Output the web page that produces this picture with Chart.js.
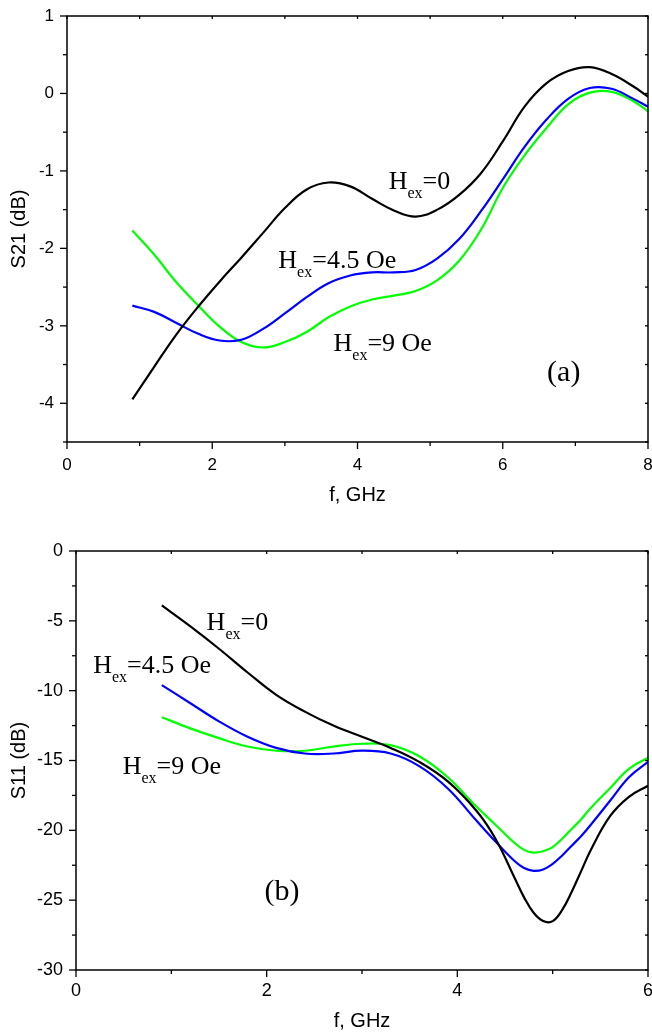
<!DOCTYPE html>
<html>
<head>
<meta charset="utf-8">
<script src="https://cdn.jsdelivr.net/npm/chart.js@4.4.1/dist/chart.umd.min.js"></script>
<style>
  body { margin: 0; background: #fff; }
  .panel { position: absolute; left: 0; width: 652px; }
  #wrapA { top: 0; height: 520px; }
  #wrapB { top: 520px; height: 513px; }
</style>
</head>
<body>
<div class="panel" id="wrapA"><canvas id="chartA" width="652" height="520"></canvas></div>
<div class="panel" id="wrapB"><canvas id="chartB" width="652" height="513"></canvas></div>
<script>
// (a) S21 vs frequency
const freqA = [0.9, 1.2, 1.5, 1.8, 2.1, 2.4, 2.7, 3.0, 3.3, 3.6, 3.9, 4.2, 4.5, 4.8, 5.1, 5.4, 5.7, 6.0, 6.3, 6.6, 6.9, 7.2, 7.5, 7.8, 8.0];
const s21_h0  = [-3.95, -3.53, -3.12, -2.76, -2.43, -2.12, -1.80, -1.48, -1.24, -1.15, -1.20, -1.36, -1.51, -1.59, -1.50, -1.31, -1.03, -0.62, -0.17, 0.13, 0.29, 0.34, 0.25, 0.09, -0.04];
const s21_h45 = [-2.74, -2.82, -2.96, -3.10, -3.19, -3.18, -3.04, -2.84, -2.63, -2.45, -2.35, -2.31, -2.31, -2.28, -2.13, -1.88, -1.52, -1.11, -0.69, -0.34, -0.07, 0.07, 0.06, -0.07, -0.17];
const s21_h9  = [-1.77, -2.08, -2.43, -2.73, -3.01, -3.21, -3.28, -3.21, -3.08, -2.89, -2.75, -2.66, -2.61, -2.55, -2.41, -2.16, -1.76, -1.22, -0.80, -0.45, -0.14, 0.01, 0.02, -0.10, -0.23];
const xTicksA = [0, 2, 4, 6, 8];
const yTicksA = [-4, -3, -2, -1, 0, 1];

// (b) S11 vs frequency
const freqB = [0.9, 1.2, 1.5, 1.8, 2.1, 2.4, 2.7, 3.0, 3.3, 3.6, 3.9, 4.2, 4.4, 4.6, 4.7, 4.8, 4.9, 5.0, 5.1, 5.2, 5.3, 5.4, 5.6, 5.8, 6.0];
const s11_h0  = [-3.9, -5.4, -7.0, -8.7, -10.3, -11.5, -12.5, -13.3, -14.1, -15.1, -16.5, -18.6, -20.6, -23.4, -24.8, -25.9, -26.5, -26.5, -25.7, -24.4, -22.9, -21.4, -19.0, -17.6, -16.8];
const s11_h45 = [-9.6, -10.9, -12.2, -13.3, -14.1, -14.5, -14.5, -14.3, -14.5, -15.4, -17.0, -19.3, -20.8, -22.2, -22.7, -22.9, -22.8, -22.4, -21.8, -21.1, -20.4, -19.6, -17.9, -16.2, -15.1];
const s11_h9  = [-11.9, -12.7, -13.4, -14.0, -14.3, -14.3, -14.0, -13.8, -13.9, -14.7, -16.2, -18.3, -19.6, -20.9, -21.4, -21.6, -21.5, -21.2, -20.6, -19.9, -19.2, -18.4, -17.0, -15.6, -14.8];
const xTicksB = [0, 2, 4, 6];
const yTicksB = [-30, -25, -20, -15, -10, -5, 0];

const seriesColors = ['#000000', '#0000ff', '#00ff00'];

// curve labels, placed in data coordinates
const labelsA = [
    { sub: 'ex', rest: '=0', x: 4.43, y: -1.24 },
    { sub: 'ex', rest: '=4.5 Oe', x: 2.91, y: -2.25 },
    { sub: 'ex', rest: '=9 Oe', x: 3.67, y: -3.33 }
];
const labelsB = [
    { sub: 'ex', rest: '=0', x: 1.37, y: -5.64 },
    { sub: 'ex', rest: '=4.5 Oe', x: 0.18, y: -8.71 },
    { sub: 'ex', rest: '=9 Oe', x: 0.49, y: -16.0 }
];

// Frame with ticks on all four sides
const frameTicks = {
    id: 'frameTicks',
    afterDraw(chart, args, opts) {
        const { ctx, chartArea: a } = chart;
        const sx = chart.scales.x, sy = chart.scales.y;
        ctx.save();
        ctx.strokeStyle = '#000';
        ctx.lineWidth = 1.5;
        ctx.strokeRect(a.left, a.top, a.right - a.left, a.bottom - a.top);
        ctx.lineWidth = 1.3;
        const line = (x1, y1, x2, y2) => {
            ctx.beginPath();
            ctx.moveTo(x1, y1);
            ctx.lineTo(x2, y2);
            ctx.stroke();
        };
        const isMajor = (v, step) => Math.abs(v / step - Math.round(v / step)) < 1e-6;
        for (let v = sx.min; v <= sx.max + 1e-9; v += opts.xMajor / 2) {
            const px = sx.getPixelForValue(v);
            line(px, a.bottom, px, a.bottom + (isMajor(v, opts.xMajor) ? 7 : 4));
            line(px, a.top, px, a.top + 3);
        }
        for (let v = sy.min; v <= sy.max + 1e-9; v += opts.yMajor / 2) {
            const py = sy.getPixelForValue(v);
            line(a.left, py, a.left - (isMajor(v, opts.yMajor) ? 7 : 4), py);
            line(a.right, py, a.right - 3, py);
        }
        ctx.restore();
    }
};

// H_ex labels and panel letter
const curveText = {
    id: 'curveText',
    afterDraw(chart, args, opts) {
        const { ctx } = chart;
        const sx = chart.scales.x, sy = chart.scales.y;
        ctx.save();
        ctx.fillStyle = '#000';
        ctx.textAlign = 'left';
        ctx.textBaseline = 'alphabetic';
        opts.labels.forEach(l => {
            const px = sx.getPixelForValue(l.x);
            const py = sy.getPixelForValue(l.y);
            ctx.font = '26px "Liberation Serif"';
            ctx.fillText('H', px, py);
            let w = ctx.measureText('H').width;
            ctx.font = '16px "Liberation Serif"';
            ctx.fillText(l.sub, px + w, py + 9);
            w += ctx.measureText(l.sub).width;
            ctx.font = '26px "Liberation Serif"';
            ctx.fillText(l.rest, px + w, py);
        });
        ctx.font = '30px "Liberation Serif"';
        ctx.textAlign = 'center';
        ctx.textBaseline = 'middle';
        ctx.fillText(opts.panel.text, sx.getPixelForValue(opts.panel.x), sy.getPixelForValue(opts.panel.y));
        ctx.restore();
    }
};

function makeDatasets(freq, series) {
    return series.map((vals, i) => ({
        data: freq.map((f, k) => ({ x: f, y: vals[k] })),
        borderColor: seriesColors[i],
        borderWidth: 2.2,
        pointRadius: 0,
        fill: false,
        tension: 0.4
    }));
}

function makeOptions(cfg) {
    return {
        responsive: false,
        animation: false,
        layout: { padding: { top: cfg.padTop, right: 4, left: 0, bottom: 0 } },
        plugins: {
            legend: { display: false },
            tooltip: { enabled: false },
            frameTicks: { xMajor: cfg.xMajor, yMajor: cfg.yMajor },
            curveText: { labels: cfg.labels, panel: cfg.panel }
        },
        scales: {
            x: {
                type: 'linear',
                min: cfg.xMin,
                max: cfg.xMax,
                grid: { display: false, drawTicks: false },
                border: { display: false },
                afterBuildTicks: s => { s.ticks = cfg.xTicks.map(v => ({ value: v })); },
                afterFit: s => { s.height = cfg.xAxisHeight; s.paddingLeft = 0; s.paddingRight = 0; },
                ticks: {
                    padding: cfg.xTickPad,
                    color: '#000',
                    maxRotation: 0,
                    autoSkip: false,
                    font: { family: 'Liberation Sans', size: cfg.tickSize }
                },
                title: {
                    display: true,
                    text: 'f, GHz',
                    color: '#000',
                    font: { family: 'Liberation Sans', size: 20 },
                    padding: { top: 0, bottom: cfg.xTitlePad }
                }
            },
            y: {
                type: 'linear',
                min: cfg.yMin,
                max: cfg.yMax,
                grid: { display: false, drawTicks: false },
                border: { display: false },
                afterBuildTicks: s => { s.ticks = cfg.yTicks.map(v => ({ value: v })); },
                afterFit: s => { s.width = cfg.yAxisWidth; s.paddingTop = 0; s.paddingBottom = 0; },
                ticks: {
                    padding: 13,
                    color: '#000',
                    autoSkip: false,
                    font: { family: 'Liberation Sans', size: cfg.tickSize }
                },
                title: {
                    display: true,
                    text: cfg.yTitle,
                    color: '#000',
                    font: { family: 'Liberation Sans', size: 20 },
                    padding: { top: 7, bottom: 0 }
                }
            }
        }
    };
}

new Chart(document.getElementById('chartA'), {
    type: 'line',
    data: { datasets: makeDatasets(freqA, [s21_h0, s21_h45, s21_h9]) },
    options: makeOptions({
        padTop: 16, xMin: 0, xMax: 8, yMin: -4.5, yMax: 1,
        xTicks: xTicksA, yTicks: yTicksA, xMajor: 2, yMajor: 1,
        xAxisHeight: 78, yAxisWidth: 67, xTickPad: 13, xTitlePad: 13, tickSize: 17,
        yTitle: 'S21 (dB)', labels: labelsA,
        panel: { text: '(a)', x: 6.84, y: -3.61 }
    }),
    plugins: [frameTicks, curveText]
});

new Chart(document.getElementById('chartB'), {
    type: 'line',
    data: { datasets: makeDatasets(freqB, [s11_h0, s11_h45, s11_h9]) },
    options: makeOptions({
        padTop: 31, xMin: 0, xMax: 6, yMin: -30, yMax: 0,
        xTicks: xTicksB, yTicks: yTicksB, xMajor: 2, yMajor: 5,
        xAxisHeight: 63, yAxisWidth: 76, xTickPad: 10, xTitlePad: 0, tickSize: 18,
        yTitle: 'S11 (dB)', labels: labelsB,
        panel: { text: '(b)', x: 2.16, y: -24.4 }
    }),
    plugins: [frameTicks, curveText]
});
</script>
</body>
</html>
